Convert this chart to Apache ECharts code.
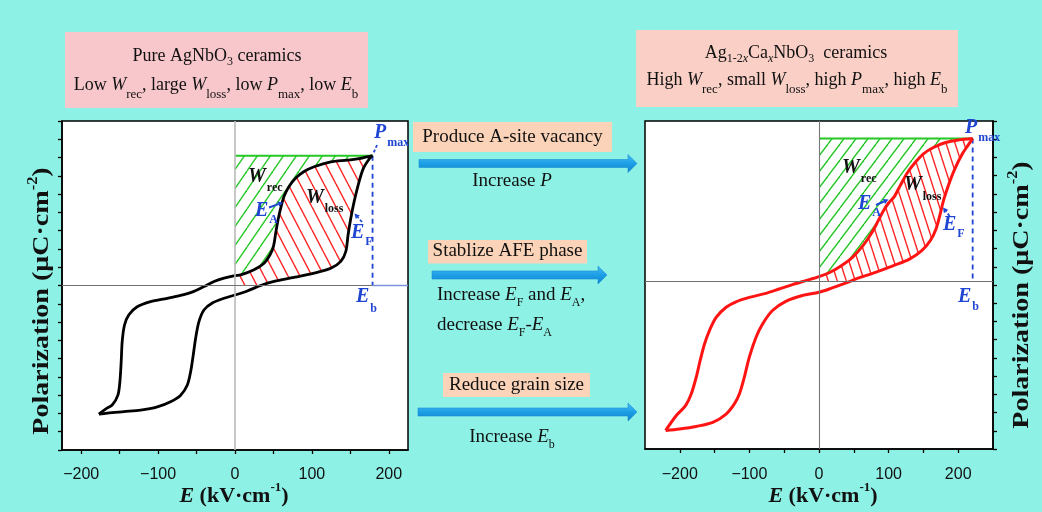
<!DOCTYPE html>
<html>
<head>
<meta charset="utf-8">
<title>AgNbO3 vs Ag1-2xCaxNbO3 P–E loops</title>
<script src="https://cdn.jsdelivr.net/npm/echarts@6.0.0/dist/echarts.min.js"></script>
<style>
  html, body { margin: 0; padding: 0; background: #8ef1e5; }
  #chart { width: 1042px; height: 512px; }
</style>
</head>
<body>
<div id="chart"></div>
<script>
// Field axis ticks (kV/cm)
const fieldLabels = [-200, -100, 0, 100, 200];
const fieldTicks = [-200, -150, -100, -50, 0, 50, 100, 150, 200];

// Pure AgNbO3 double loop: descending-field branch (+Pmax -> -Pmax) and rising-field branch (-Pmax -> +Pmax)
const agnDescending = [
  [178.9, 35.5], [163.7, 34.8], [146.3, 34.3], [124.6, 33.8], [102.9, 32.5], [89.8, 31.2], [79, 29.4],
  [70.3, 27.1], [63.8, 24.4], [59.5, 21.2], [56, 18], [53, 14.4], [50, 10.7], [45.6, 8.4], [37.8, 6.1],
  [24.7, 4.3], [7.4, 2.9], [0, 2.7], [-14.3, 2], [-27.3, 1.1], [-40.4, -0.3], [-53.4, -1.6], [-70.7, -2.7],
  [-88.1, -3.5], [-109.8, -4.4], [-127.2, -5.8], [-138, -8], [-143.7, -10.8], [-146.7, -15.3], [-148, -20.8],
  [-149.7, -26.3], [-152.3, -30], [-159.7, -32.7], [-168.4, -33.8], [-177, -35.2]
];
const agnRising = [
  [-177, -35.2], [-166, -34.9], [-144.5, -34.5], [-122.8, -34.1], [-101, -33.2], [-83.8, -31.8], [-70.7, -30],
  [-62, -27.2], [-57.7, -23.6], [-54.3, -19], [-51.2, -14.4], [-46.9, -9.9], [-40.4, -6.7], [-29.5, -4.8],
  [-14.3, -3.5], [0, -2.6], [16, -1.5], [33.4, 0], [50.8, 1.1], [76.8, 2.2], [102.9, 3.4], [124.6, 4.7],
  [137.6, 6.6], [144.1, 9.3], [147.1, 13.9], [150.6, 18.4], [155, 23], [161.5, 28.5], [167.1, 32.1],
  [174.5, 34.6], [178.9, 35.5]
];

// Ag(1-2x)CaxNbO3 double loop
const acnDescending = [
  [220.8, 39.2], [200, 38.8], [182, 38.1], [165, 36.8], [150, 35], [139, 32.8], [127, 29.8], [117, 26.4],
  [108, 23.2], [100, 21.5], [93, 19.5], [85, 16.6], [76, 13.4], [64, 10], [48, 6.6], [32, 4.3], [16, 2.5],
  [0, 1.3], [-19.1, 0.2], [-38.1, -0.9], [-57.2, -2.1], [-76.3, -3.3], [-100.1, -4.4], [-119.2, -5.6],
  [-133.5, -7.1], [-147.8, -9.9], [-157.4, -13.5], [-164.5, -17.2], [-170.7, -21.7], [-176.4, -26.3],
  [-183.6, -30.9], [-191.7, -34.1], [-205, -36.8], [-220.3, -40.9]
];
const acnRising = [
  [-220.3, -40.9], [-200.3, -40.5], [-176.4, -39.8], [-152.6, -38.7], [-133.5, -36.4], [-121.6, -33.6],
  [-114.4, -30.9], [-107.3, -26.3], [-100.1, -20.8], [-90.6, -15.4], [-81.1, -11.7], [-66.8, -8],
  [-47.7, -5.5], [-23.8, -3.9], [0, -3.0], [19, -1.8], [38, -0.5], [55, 0.8], [80, 2.4], [108, 4.4],
  [130, 6.1], [148, 8.5], [160, 11.2], [168, 14.3], [174, 18.4], [179, 22.3], [186, 26.4], [195, 30.8],
  [206, 35], [214, 37.3], [220.8, 39.2]
];

const SERIF = "'Liberation Serif', 'Times New Roman', serif";
const SANS = "'Liberation Sans', Arial, sans-serif";
const BG = '#8ef1e5';
const INK = '#111111';
const BLUE = '#1f45d3';
const GREEN = '#25c825';
const RED = '#ff2424';

// Repeating diagonal hatch used as a fill pattern
function hatch(color, w, h, rising, lw) {
  const c = document.createElement('canvas');
  c.width = w; c.height = h;
  const g = c.getContext('2d');
  g.strokeStyle = color; g.lineWidth = lw;
  for (let k = -1; k <= 1; k++) {
    g.beginPath();
    if (rising) { g.moveTo(k * w, h); g.lineTo((k + 1) * w, 0); }
    else { g.moveTo(k * w, 0); g.lineTo((k + 1) * w, h); }
    g.stroke();
  }
  return { image: c, repeat: 'repeat' };
}

// Recoverable energy: between the P axis, the Pmax level and the descending branch
function recPolygon(desc) {
  const arc = desc.filter(p => p[0] >= 0);
  return [[0, desc[0][1]], ...arc];
}
// Loss: between the descending and rising branches in the first quadrant
function lossPolygon(desc, rise) {
  const arc = desc.filter(p => p[0] >= 0);
  const climb = [];
  for (let i = 1; i < rise.length; i++) {
    const a = rise[i - 1], b = rise[i];
    if (b[0] < 0 || b[1] < 0) continue;
    if (a[1] < 0) climb.push([a[0] + (b[0] - a[0]) * (-a[1]) / (b[1] - a[1]), 0]);
    climb.push(b);
  }
  return [...arc, [0, 0], ...climb];
}

function region(idx, poly, fill) {
  return {
    type: 'custom', xAxisIndex: idx, yAxisIndex: idx, silent: true, z: 2, clip: true,
    data: [[0, 0]],
    renderItem: (params, api) => ({
      type: 'polygon',
      shape: { points: poly.map(p => api.coord(p)) },
      style: { fill: fill, stroke: null }
    })
  };
}

const fmt = v => (v < 0 ? '\u2212' + (-v) : String(v));

function fieldAxis(idx, min, max, margin) {
  return {
    type: 'value', gridIndex: idx, min, max, position: 'bottom',
    axisLine: { show: true, onZero: false, lineStyle: { color: '#000', width: 1.5 } },
    axisTick: { show: true, customValues: fieldTicks, length: 4, lineStyle: { color: '#000', width: 1.3 } },
    axisLabel: { show: true, customValues: fieldLabels, formatter: fmt, color: INK, fontSize: 16, fontFamily: SANS, margin },
    splitLine: { show: false }
  };
}
function polAxis(idx, pos, min, max) {
  return {
    type: 'value', gridIndex: idx, position: pos, min, max, interval: 5,
    axisLine: { show: true, onZero: false, lineStyle: { color: '#000', width: 1.5 } },
    axisTick: { show: true, length: 4, lineStyle: { color: '#000', width: 1.3 } },
    axisLabel: { show: false }, splitLine: { show: false }
  };
}

function panelSeries(idx, desc, rise, loopColor, loopWidth, greenFill, redFill, vColor, vWidth, blueTail) {
  const tip = desc[0];
  const refs = [
    { xAxis: 0, lineStyle: { color: vColor, width: vWidth, type: 'solid' } },
    { yAxis: 0, lineStyle: { color: '#707070', width: 1.2, type: 'solid' } }
  ];
  if (blueTail !== null) {
    refs.push([
      { coord: [tip[0], 0], lineStyle: { color: '#7d93df', width: 1.3, type: 'solid' } },
      { coord: [blueTail, 0], lineStyle: { color: '#7d93df', width: 1.3, type: 'solid' } }
    ]);
  }
  return [
    {
      type: 'line', xAxisIndex: idx, yAxisIndex: idx, data: [], silent: true, z: 1,
      markLine: { silent: true, symbol: ['none', 'none'], animation: false, label: { show: false }, data: refs }
    },
    region(idx, recPolygon(desc), greenFill),
    region(idx, lossPolygon(desc, rise), redFill),
    {
      type: 'line', xAxisIndex: idx, yAxisIndex: idx, data: [[0, tip[1]], tip], symbol: 'none', silent: true, z: 3,
      lineStyle: { color: GREEN, width: 2 }
    },
    {
      type: 'line', xAxisIndex: idx, yAxisIndex: idx, data: [tip, [tip[0], 0]], symbol: 'none', silent: true, z: 3,
      lineStyle: { color: BLUE, width: 1.8, type: [5, 4] }
    },
    {
      type: 'line', xAxisIndex: idx, yAxisIndex: idx, data: desc, symbol: 'none', smooth: 0.3, silent: true, z: 4,
      lineStyle: { color: loopColor, width: loopWidth }
    },
    {
      type: 'line', xAxisIndex: idx, yAxisIndex: idx, data: rise, symbol: 'none', smooth: 0.3, silent: true, z: 4,
      lineStyle: { color: loopColor, width: loopWidth }
    }
  ];
}

// ---------- text helpers ----------
function tk(size, o) {
  return Object.assign({ fontSize: size, fontFamily: SERIF, fontWeight: 'normal', fontStyle: 'normal',
    fill: INK, verticalAlign: 'middle', lineHeight: 26 }, o || {});
}
function rich(x, y, text, tokens, align, extra) {
  return Object.assign({
    type: 'text', x, y, z: 100, silent: true,
    style: { text, rich: tokens, align: align || 'left', verticalAlign: 'middle' }
  }, extra || {});
}
// symbol + subscript, bold italic, used inside the plots
function sym(x, y, main, sub, color, pad) {
  return rich(x, y, '{a|' + main + '}{b|' + sub + '}', {
    a: tk(20, { fontWeight: 'bold', fontStyle: 'italic', fill: color }),
    b: tk(12, { fontWeight: 'bold', fill: color, padding: [pad, 0, 0, 1] })
  });
}
function arrow(x1, y1, x2, y2, color, w, head, dashed) {
  const ang = Math.atan2(y2 - y1, x2 - x1);
  const hx = x2 - head * Math.cos(ang), hy = y2 - head * Math.sin(ang);
  const px = -Math.sin(ang) * head * 0.55, py = Math.cos(ang) * head * 0.55;
  return [
    { type: 'line', z: 100, silent: true, shape: { x1, y1, x2: hx, y2: hy },
      style: { stroke: color, lineWidth: w, lineDash: dashed ? [3, 2] : null } },
    { type: 'polygon', z: 100, silent: true, shape: { points: [[x2, y2], [hx + px, hy + py], [hx - px, hy - py]] },
      style: { fill: color } }
  ];
}
function bigArrow(x1, x2, yc) {
  const t = 4, hh = 9, hl = 9;
  return {
    type: 'polygon', z: 10, silent: true,
    shape: { points: [[x1, yc - t], [x2 - hl, yc - t], [x2 - hl, yc - hh], [x2, yc], [x2 - hl, yc + hh], [x2 - hl, yc + t], [x1, yc + t]] },
    style: {
      fill: new echarts.graphic.LinearGradient(0, 0, 0, 1, [
        { offset: 0, color: '#4cbcf4' }, { offset: 0.5, color: '#1c9fe6' }, { offset: 1, color: '#1282cc' }
      ]),
      stroke: '#1a8fd6', lineWidth: 0.6
    }
  };
}
function box(x, y, w, h, color) {
  return { type: 'rect', z: 5, silent: true, shape: { x, y, width: w, height: h }, style: { fill: color } };
}

const T = {
  n: tk(18), i: tk(18, { fontStyle: 'italic' }),
  s: tk(13, { padding: [20, 0, 0, 0] }),
  d: tk(12, { padding: [12, 0, 0, 0] }),
  di: tk(12, { fontStyle: 'italic', padding: [12, 0, 0, 0] })
};
const M = {
  n: tk(19), i: tk(19, { fontStyle: 'italic' }),
  s: tk(12, { padding: [15, 0, 0, 0] })
};
const AX = {
  a: tk(22, { fontWeight: 'bold' }),
  e: tk(22, { fontWeight: 'bold', fontStyle: 'italic' }),
  b: tk(13, { fontWeight: 'bold', padding: [0, 0, 16, 0] })
};
const AY = {
  a: tk(24, { fontWeight: 'bold' }),
  b: tk(14, { fontWeight: 'bold', padding: [0, 0, 17, 0] })
};

const graphics = [
  // headline boxes
  box(65, 32, 303, 76, '#f8c7cc'),
  box(636, 30, 322, 77, '#fad0c6'),
  rich(217, 56, '{n|Pure AgNbO}{d|3}{n| ceramics}', T, 'center'),
  rich(216, 85, '{n|Low }{i|W}{s|rec}{n|, large }{i|W}{s|loss}{n|, low }{i|P}{s|max}{n|, low }{i|E}{s|b}', T, 'center'),
  rich(796, 53, '{n|Ag}{d|1-2}{di|x}{n|Ca}{di|x}{n|NbO}{d|3}{n|  ceramics}', T, 'center'),
  rich(797, 80, '{n|High }{i|W}{s|rec}{n|, small }{i|W}{s|loss}{n|, high }{i|P}{s|max}{n|, high }{i|E}{s|b}', T, 'center'),

  // modification steps
  box(413, 122, 199, 30, '#fad3b8'),
  rich(512.5, 137, '{n|Produce A-site vacancy}', M, 'center'),
  bigArrow(419, 637, 163.5),
  rich(512, 181, '{n|Increase }{i|P}', M, 'center'),
  box(428, 240, 159, 23.5, '#fad3b8'),
  rich(507.5, 251.5, '{n|Stablize AFE phase}', M, 'center'),
  bigArrow(432, 607, 275),
  rich(437, 295, '{n|Increase }{i|E}{s|F}{n| and }{i|E}{s|A}{n|,}', M, 'left'),
  rich(437, 325, '{n|decrease }{i|E}{s|F}{n|-}{i|E}{s|A}', M, 'left'),
  box(443, 373, 147, 24, '#fad3b8'),
  rich(516.5, 385, '{n|Reduce grain size}', M, 'center'),
  bigArrow(418, 637, 412),
  rich(512, 437, '{n|Increase }{i|E}{s|b}', M, 'center'),

  // axis titles
  rich(234, 496, '{e|E}{a| (kV·cm}{b|-1}{a|)}', AX, 'center'),
  rich(823, 496, '{e|E}{a| (kV·cm}{b|-1}{a|)}', AX, 'center'),
  rich(42, 301, '{a|Polarization (μC·cm}{b|-2}{a|)}', AY, 'center', { rotation: Math.PI / 2, scaleX: 1.17 }),
  rich(1022, 295, '{a|Polarization (μC·cm}{b|-2}{a|)}', AY, 'center', { rotation: Math.PI / 2, scaleX: 1.17 }),

  // annotations, pure AgNbO3
  sym(374, 133, 'P', 'max', BLUE, 20),
  sym(248, 177, 'W', 'rec', INK, 21),
  sym(306, 198, 'W', 'loss', INK, 22),
  sym(255, 211, 'E', 'A', BLUE, 18),
  sym(351, 233, 'E', 'F', BLUE, 17),
  sym(356, 297, 'E', 'b', BLUE, 24),
  ...arrow(269, 207.5, 283, 202.5, BLUE, 2, 5, false),
  ...arrow(362, 222, 354.5, 213.5, BLUE, 1.8, 5, true),
  { type: 'line', z: 100, silent: true, shape: { x1: 377, y1: 145, x2: 373.5, y2: 153 },
    style: { stroke: BLUE, lineWidth: 1.8, lineDash: [3, 2] } },

  // annotations, Ca-doped
  sym(965, 128, 'P', 'max', BLUE, 19),
  sym(842, 168, 'W', 'rec', INK, 22),
  sym(904, 185, 'W', 'loss', INK, 23),
  sym(858, 204, 'E', 'A', BLUE, 18),
  sym(943, 225, 'E', 'F', BLUE, 18),
  sym(958, 297, 'E', 'b', BLUE, 20),
  ...arrow(876, 205, 888.5, 199.5, BLUE, 2, 5, false),
  ...arrow(949.5, 216, 943, 207.5, BLUE, 1.8, 5, true)
];

const chart = echarts.init(document.getElementById('chart'), null, { renderer: 'canvas', width: 1042, height: 512 });
chart.setOption({
  backgroundColor: BG,
  animation: false,
  grid: [
    { left: 62, top: 121, width: 346, height: 329, show: true, backgroundColor: '#fff', borderColor: '#000', borderWidth: 1.5 },
    { left: 645, top: 121, width: 348, height: 328, show: true, backgroundColor: '#fff', borderColor: '#000', borderWidth: 1.5 }
  ],
  xAxis: [fieldAxis(0, -225, 225, 17), fieldAxis(1, -250, 250, 18)],
  yAxis: [polAxis(0, 'left', -45, 45), polAxis(1, 'right', -46, 44)],
  series: [
    ...panelSeries(0, agnDescending, agnRising, '#000000', 2.8,
      hatch(GREEN, 13, 19, true, 1.4), hatch(RED, 12, 23, false, 1.4), '#b9b9b9', 1.6, 225),
    ...panelSeries(1, acnDescending, acnRising, '#ff1414', 3,
      hatch(GREEN, 12, 16, true, 1.4), hatch(RED, 9, 28, false, 1.4), '#777777', 1.1, null)
  ],
  graphic: { elements: graphics }
});
</script>
</body>
</html>
